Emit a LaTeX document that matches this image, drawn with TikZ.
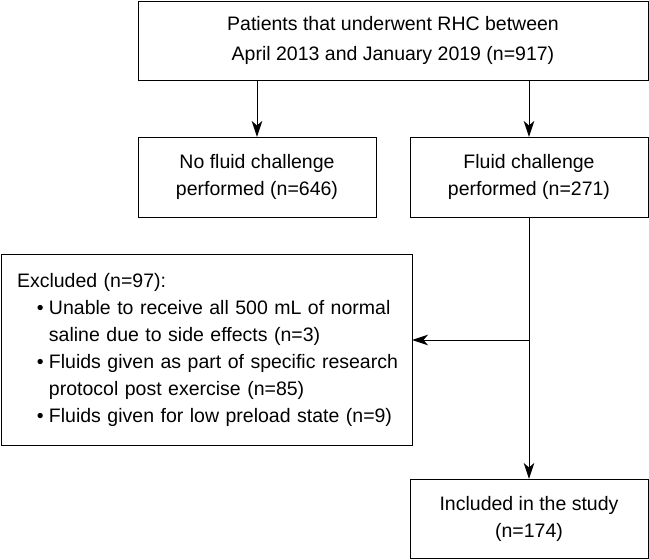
\documentclass[tikz,border=0pt]{standalone}
\usepackage{fontspec}
\setmainfont{Liberation Sans}
\usetikzlibrary{arrows.meta}
\begin{document}
\begin{tikzpicture}[x=1pt,y=-1pt,
  box/.style={draw, line width=1pt, inner sep=0pt, outer sep=0pt, align=center,
    font=\fontsize{19.5}{27}\selectfont},
  arr/.style={line width=1pt, -{Stealth[length=16pt,width=10.5pt,inset=4.5pt]}}]
\useasboundingbox (0,0) rectangle (649,560);
\node[box, minimum width=510pt, minimum height=79pt, font=\fontsize{19.5}{30}\selectfont] (top) at (393,40.5)
  {Patients that underwent RHC between\\April 2013 and January 2019 (n=917)};
\node[box, minimum width=238pt, minimum height=80pt] (left) at (257,177)
  {No fluid challenge\\performed (n=646)};
\node[box, minimum width=238pt, minimum height=80pt] (right) at (529,177)
  {Fluid challenge\\performed (n=271)};
\node[box, align=left, text width=379pt, inner xsep=16pt, minimum height=191pt] (excl) at (206.5,349.5)
  {\mbox{Excluded (n=97):}\\
   \mbox{\hspace*{20pt}\makebox[12pt][l]{•}Unable to receive all 500 mL of normal}\\
   \mbox{\hspace*{32pt}saline due to side effects (n=3)}\\
   \mbox{\hspace*{20pt}\makebox[12pt][l]{•}Fluids given as part of specific research}\\
   \mbox{\hspace*{32pt}protocol post exercise (n=85)}\\
   \mbox{\hspace*{20pt}\makebox[12pt][l]{•}Fluids given for low preload state (n=9)}};
\node[box, minimum width=238pt, minimum height=79pt] (bottom) at (529,518.5)
  {Included in the study\\(n=174)};
\coordinate (j) at (529,340);
\draw[arr] (top.south -| left) -- (left.north);
\draw[arr] (top.south -| right) -- (right.north);
\draw[arr] (right.south) -- (bottom.north);
\draw[arr] (j) -- (j -| excl.east);
\end{tikzpicture}
\end{document}
